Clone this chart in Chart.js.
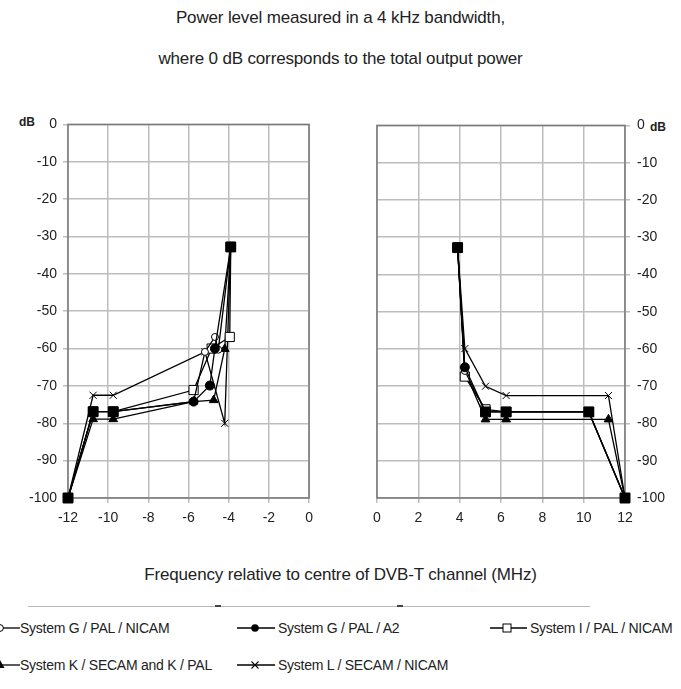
<!DOCTYPE html>
<html>
<head>
<meta charset="utf-8">
<script src="https://cdn.jsdelivr.net/npm/chart.js@4.4.1/dist/chart.umd.min.js"></script>
<style>
  body { margin: 0; background: #fff; font-family: "Liberation Sans", Arial, sans-serif; color: #222; }
  #page { position: relative; width: 681px; height: 689px; overflow: hidden; }
  .title { position: absolute; left: 0; width: 681px; text-align: center; font-size: 17px; line-height: 20px; letter-spacing: -0.15px; }
  .box { position: absolute; }
  .db { position: absolute; font-size: 12px; font-weight: bold; line-height: 14px; }
  .leg { position: absolute; font-size: 14px; line-height: 16px; letter-spacing: -0.25px; white-space: nowrap; }
  .rule { position: absolute; top: 606px; left: 28px; width: 562px; border-top: 1.5px solid #b8b8b8; }
  .nub { position: absolute; top: 605px; width: 6px; height: 2px; background: #444; }
</style>
</head>
<body>
<div id="page">
  <div class="title" style="top:8px">Power level measured in a 4 kHz bandwidth,</div>
  <div class="title" style="top:49px">where 0 dB corresponds to the total output power</div>

  <div class="db" style="left:19px;top:115px">dB</div>
  <div class="db" style="left:650px;top:120px">dB</div>

  <div class="box" style="left:0;top:110px;width:320px;height:420px"><canvas id="leftChart" width="320" height="420"></canvas></div>
  <div class="box" style="left:350px;top:110px;width:331px;height:420px"><canvas id="rightChart" width="331" height="420"></canvas></div>

  <div class="title" style="top:565px">Frequency relative to centre of DVB-T channel (MHz)</div>

  <div class="rule"></div>
  <div class="nub" style="left:215px"></div>
  <div class="nub" style="left:397px"></div>

  <div class="leg" style="left:20px;top:620px">System G / PAL / NICAM</div>
  <svg style="position:absolute;left:-4px;top:620px" width="24" height="16"><line x1="7" y1="8" x2="24" y2="8" stroke="#000" stroke-width="1.3"/><circle cx="4" cy="8" r="3.4" fill="#fff" stroke="#000" stroke-width="1"/></svg>

  <div class="leg" style="left:278px;top:620px">System G / PAL / A2</div>
  <svg style="position:absolute;left:237px;top:620px" width="38" height="16"><line x1="0" y1="8" x2="38" y2="8" stroke="#000" stroke-width="1.3"/><circle cx="18" cy="8" r="3.8" fill="#000"/></svg>

  <div class="leg" style="left:530px;top:620px">System I / PAL / NICAM</div>
  <svg style="position:absolute;left:490px;top:620px" width="37" height="16"><line x1="0" y1="8" x2="37" y2="8" stroke="#000" stroke-width="1.3"/><rect x="13" y="4" width="8" height="8" fill="#fff" stroke="#000" stroke-width="1"/></svg>

  <div class="leg" style="left:20px;top:657px">System K / SECAM and K / PAL</div>
  <svg style="position:absolute;left:-4px;top:657px" width="24" height="16"><line x1="6" y1="8" x2="24" y2="8" stroke="#000" stroke-width="1.3"/><polygon points="4,3 8.5,11 -0.5,11" fill="#000"/></svg>

  <div class="leg" style="left:278px;top:657px">System L / SECAM / NICAM</div>
  <svg style="position:absolute;left:237px;top:657px" width="38" height="16"><line x1="0" y1="8" x2="38" y2="8" stroke="#000" stroke-width="1.3"/><path d="M14.5 4.5 L21.5 11.5 M21.5 4.5 L14.5 11.5" stroke="#000" stroke-width="1.1"/></svg>
</div>

<script>
// breakpoints: [frequency MHz, level dB]
const gPalNicamLow = [[-12, -100], [-10.75, -76.9], [-9.75, -76.9], [-5.75, -74.2], [-5.185, -60.9], [-4.685, -56.9], [-4.52, -60.3], [-3.9, -32.8]];
const gPalNicamHigh = [[3.9, -32.8], [4.25, -65.9], [5.25, -76.9], [6.25, -76.9], [10.25, -76.9], [12, -100]];

const gPalA2Low = [[-12, -100], [-10.75, -76.9], [-9.75, -76.9], [-5.75, -74.2], [-4.94, -69.9], [-4.69, -60.0], [-3.9, -32.8]];
const gPalA2High = [[3.9, -32.8], [4.25, -64.9], [5.25, -76.9], [6.25, -76.9], [10.25, -76.9], [12, -100]];

const iPalNicamLow = [[-12, -100], [-10.75, -76.9], [-9.75, -76.9], [-5.75, -71.1], [-4.85, -60.0], [-3.95, -56.9], [-3.9, -32.8]];
const iPalNicamHigh = [[3.9, -32.8], [4.25, -67.4], [5.25, -76.2], [6.25, -76.9], [10.25, -76.9], [12, -100]];

const kSecamLow = [[-12, -100], [-10.75, -78.9], [-9.75, -78.9], [-5.75, -74.2], [-4.75, -73.8], [-4.2, -60.1], [-3.9, -32.8]];
const kSecamHigh = [[3.9, -32.8], [4.25, -66.0], [5.25, -78.9], [6.25, -78.9], [11.2, -78.9], [12, -100]];

const lSecamLow = [[-12, -100], [-10.75, -72.5], [-9.75, -72.5], [-5.185, -60.9], [-4.2, -80.0], [-3.9, -32.8]];
const lSecamHigh = [[3.9, -32.8], [4.25, -59.9], [5.25, -70.0], [6.25, -72.5], [11.2, -72.5], [12, -100]];

// breakpoints shared by several systems (filled squares)
const commonLow = [[-12, -100], [-10.75, -76.9], [-9.75, -76.9], [-3.9, -32.8]];
const commonHigh = [[3.9, -32.8], [5.25, -76.9], [6.25, -76.9], [10.25, -76.9], [12, -100]];

const leftTicks = { min: -12, max: 0, step: 2 };
const rightTicks = { min: 0, max: 12, step: 2 };
const levelTicks = { min: -100, max: 0, step: 10 };

function pts(arr) {
    return arr.map(p => ({ x: p[0], y: p[1] }));
}

function series(label, data, style, radius, fill) {
    return {
        label: label,
        data: pts(data),
        showLine: true,
        borderColor: '#000',
        borderWidth: 1.3,
        pointStyle: style,
        pointRadius: radius,
        pointBackgroundColor: fill,
        pointBorderColor: '#000',
        pointBorderWidth: 1,
        clip: false
    };
}

// first dataset ends up on top, so filled markers go first
function buildDatasets(side) {
    const low = side === 'left';
    return [
        {
            label: 'Common breakpoints',
            data: pts(low ? commonLow : commonHigh),
            showLine: false,
            pointStyle: 'rect',
            pointRadius: 7,
            pointBackgroundColor: '#000',
            pointBorderColor: '#000',
            clip: false
        },
        series('System G / PAL / A2', low ? gPalA2Low : gPalA2High, 'circle', 4.5, '#000'),
        series('System G / PAL / NICAM', low ? gPalNicamLow : gPalNicamHigh, 'circle', 3.5, '#fff'),
        series('System I / PAL / NICAM', low ? iPalNicamLow : iPalNicamHigh, 'rect', 6.5, '#fff'),
        series('System K / SECAM and K / PAL', low ? kSecamLow : kSecamHigh, 'triangle', 5, '#000'),
        series('System L / SECAM / NICAM', low ? lSecamLow : lSecamHigh, 'crossRot', 5, '#000')
    ];
}

// dark box round the plot area
const frame = {
    id: 'frame',
    beforeDatasetsDraw(chart) {
        const a = chart.chartArea;
        const ctx = chart.ctx;
        ctx.save();
        ctx.strokeStyle = '#7a7a7a';
        ctx.lineWidth = 1.5;
        ctx.strokeRect(a.left, a.top, a.right - a.left, a.bottom - a.top);
        ctx.restore();
    }
};

function makeChart(id, side) {
    const xr = side === 'left' ? leftTicks : rightTicks;
    const tickFont = { size: 14, family: 'Liberation Sans' };
    return new Chart(document.getElementById(id), {
        type: 'scatter',
        data: { datasets: buildDatasets(side) },
        plugins: [frame],
        options: {
            responsive: false,
            animation: false,
            layout: { padding: side === 'left' ? { top: 12, right: 8, left: 0, bottom: 0 } : { top: 12, left: 27, right: 0, bottom: 0 } },
            plugins: { legend: { display: false }, tooltip: { enabled: false } },
            scales: {
                x: {
                    type: 'linear',
                    min: xr.min,
                    max: xr.max,
                    ticks: { stepSize: xr.step, color: '#222', font: tickFont, padding: 7 },
                    grid: { color: '#bdbdbd', lineWidth: 1.5, tickLength: 5 },
                    border: { display: false },
                    afterFit: s => { s.height = 32; }
                },
                y: {
                    position: side,
                    min: levelTicks.min,
                    max: levelTicks.max,
                    ticks: { stepSize: levelTicks.step, color: '#222', font: tickFont, padding: side === 'left' ? 6 : 7 },
                    grid: { color: '#bdbdbd', lineWidth: 1.5, tickLength: 5 },
                    border: { display: false },
                    afterFit: s => { s.width = side === 'left' ? 68 : 56; }
                }
            }
        }
    });
}

makeChart('leftChart', 'left');
makeChart('rightChart', 'right');
</script>
</body>
</html>
